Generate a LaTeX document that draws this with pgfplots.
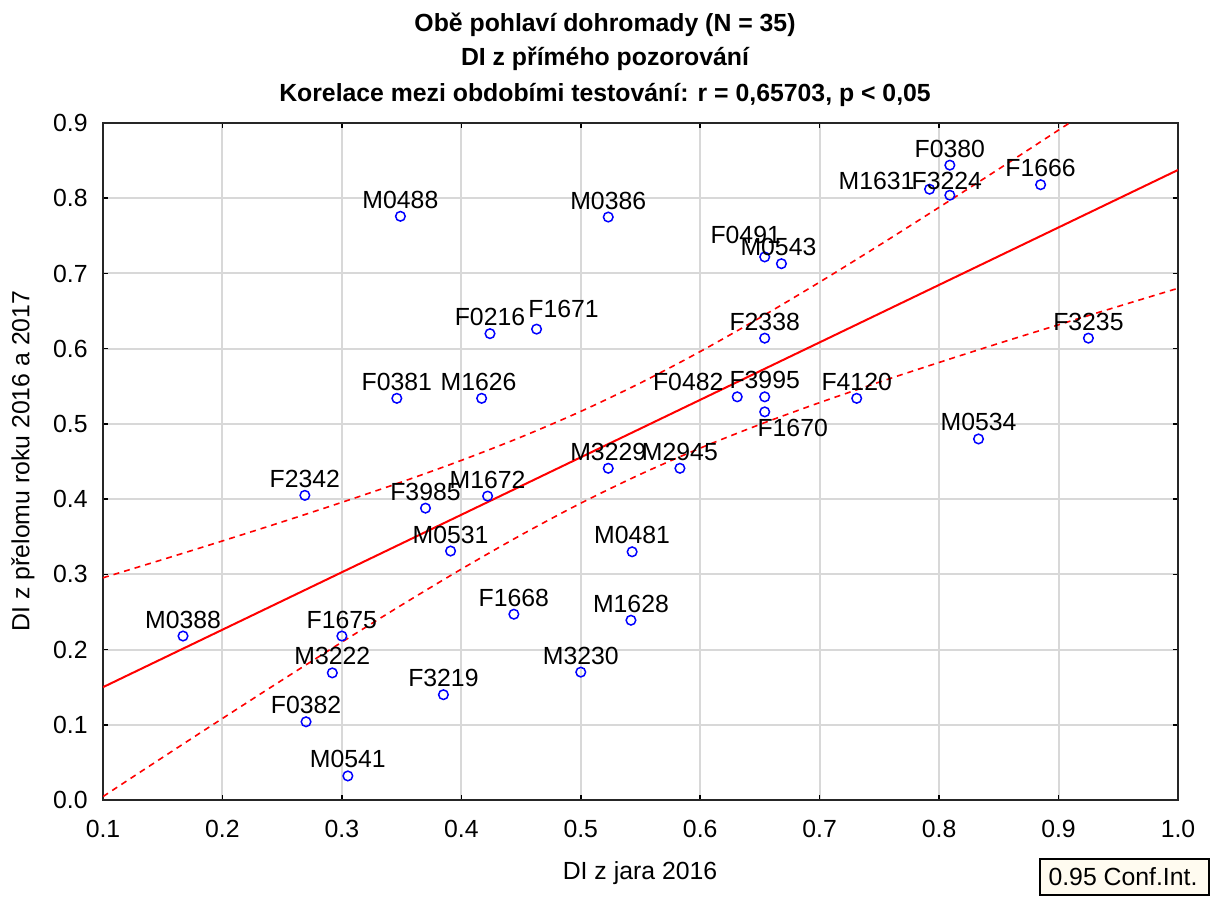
\documentclass[border=0pt]{standalone}
\usepackage{fontspec}
\setmainfont{Liberation Sans}
\usepackage{pgfplots}
\usepackage{pgfplotstable}
\pgfplotsset{compat=1.18}
\definecolor{stBlue}{RGB}{0,0,255}
\definecolor{stRed}{RGB}{255,0,0}
\definecolor{gridGray}{RGB}{216,216,216}
\definecolor{legFill}{RGB}{255,251,240}
\newcommand{\chartfont}{\fontsize{12.4}{14}\selectfont}

% points: x = DI jaro 2016, y = DI prelom 2016/2017; dx, dy = label offset in px
\pgfplotstableread{
x     y     label dx  dy
0.349 0.776 M0488 0   0
0.523 0.775 M0386 0   0
0.809 0.844 F0380 0   0
0.792 0.812 M1631 -53 -8
0.809 0.804 F3224 -3  -2
0.885 0.818 F1666 0   0
0.654 0.722 F0491 -19 5
0.668 0.713 M0543 -3  0
0.424 0.620 F0216 0   0
0.463 0.626 F1671 27  4
0.654 0.614 F2338 0   0
0.925 0.614 F3235 0   0
0.346 0.534 F0381 0   0
0.417 0.534 M1626 -3  0
0.631 0.536 F0482 -49 -2
0.654 0.536 F3995 0   0
0.731 0.534 F4120 0   0
0.654 0.516 F1670 28  -33
0.833 0.480 M0534 0   0
0.523 0.441 M3229 0   0
0.583 0.441 M2945 0   0
0.269 0.405 F2342 0   0
0.370 0.388 F3985 0   0
0.422 0.404 M1672 0   0
0.391 0.331 M0531 0   0
0.543 0.330 M0481 0   0
0.444 0.247 F1668 0   0
0.542 0.239 M1628 0   0
0.167 0.218 M0388 0   0
0.300 0.218 F1675 0   0
0.292 0.169 M3222 0   0
0.500 0.170 M3230 0   0
0.385 0.140 F3219 0   0
0.270 0.104 F0382 0   0
0.305 0.032 M0541 0   0
}\points

% regression line and 0.95 confidence band
\pgfplotstableread{
x    fit    upper  lower
0.10 0.1500 0.2954 0.0046
0.15 0.1882 0.3197 0.0567
0.20 0.2264 0.3444 0.1084
0.25 0.2646 0.3697 0.1595
0.30 0.3028 0.3957 0.2099
0.35 0.3410 0.4228 0.2592
0.40 0.3792 0.4515 0.3069
0.45 0.4174 0.4825 0.3523
0.50 0.4556 0.5166 0.3946
0.55 0.4938 0.5545 0.4331
0.60 0.5320 0.5962 0.4678
0.65 0.5702 0.6412 0.4993
0.70 0.6084 0.6885 0.5283
0.75 0.6466 0.7376 0.5556
0.80 0.6848 0.7879 0.5817
0.85 0.7230 0.8389 0.6071
0.90 0.7612 0.8906 0.6318
0.95 0.7994 0.9426 0.6562
1.00 0.8376 0.9949 0.6803
}\bands

\begin{document}
\begin{tikzpicture}
\begin{axis}[
  at={(0,0)}, anchor=south west,
  scale only axis, width=537.5pt, height=338.5pt,
  xmin=0.1, xmax=1.0, ymin=0, ymax=0.9,
  xtick={0.1,0.2,...,1.0}, ytick={0,0.1,...,0.9},
  xtick pos=both, ytick pos=both, tick align=inside,
  major tick length=2.5pt,
  tick style={black, line width=0.8pt},
  axis line style={black!85, line width=1pt},
  grid=major, major grid style={gridGray, line width=1pt},
  /pgf/number format/.cd, fixed, fixed zerofill, precision=1, assume math mode=true,
  /pgfplots/.cd,
  tick label style={font=\chartfont, inner sep=0pt},
  xticklabel style={anchor=north, yshift=-10pt},
  yticklabel style={anchor=east, xshift=-7.5pt},
]
  \addplot[stRed, line width=1pt] table[x=x, y=fit]{\bands};
  \addplot[stRed, line width=0.8pt, dash pattern=on 3pt off 2.5pt, smooth] table[x=x, y=upper]{\bands};
  \addplot[stRed, line width=0.8pt, dash pattern=on 3pt off 2.5pt, smooth] table[x=x, y=lower]{\bands};
  \addplot[only marks, mark=o, mark size=2.4pt,
    mark options={stBlue, line width=0.75pt},
    point meta=explicit symbolic,
    visualization depends on={\thisrow{dx} \as \dx},
    visualization depends on={\thisrow{dy} \as \dy},
    nodes near coords,
    every node near coord/.append style={font=\chartfont, text=black,
      anchor=south, inner sep=0pt,
      xshift=\dx*0.5pt, yshift=(7+\dy)*0.5pt},
  ] table[x=x, y=y, meta=label]{\points};
\end{axis}
% page layout in reference pixels (origin top-left), axis corner at (103,800)
\begin{scope}[x=0.5pt, y=-0.5pt, shift={(-103,-800)}]
\useasboundingbox (0,0) rectangle (1211,896);
% titles
\node[font=\chartfont\bfseries] at (605,25) {Obě pohlaví dohromady (N = 35)};
\node[font=\chartfont\bfseries] at (605,59) {DI z přímého pozorování};
\node[font=\chartfont\bfseries] at (605,95) {Korelace mezi obdobími testování: r = 0,65703, p < 0,05};
% axis titles
\node[font=\chartfont] at (640,873) {DI z jara 2016};
\node[font=\chartfont, rotate=90] at (23,461) {DI z přelomu roku 2016 a 2017};
% legend box
\draw[black, line width=0.8pt, fill=legFill] (1040,859) rectangle (1209,895);
\node[font=\chartfont] at (1123,877) {0.95 Conf.Int.};
\end{scope}
\end{tikzpicture}
\end{document}
